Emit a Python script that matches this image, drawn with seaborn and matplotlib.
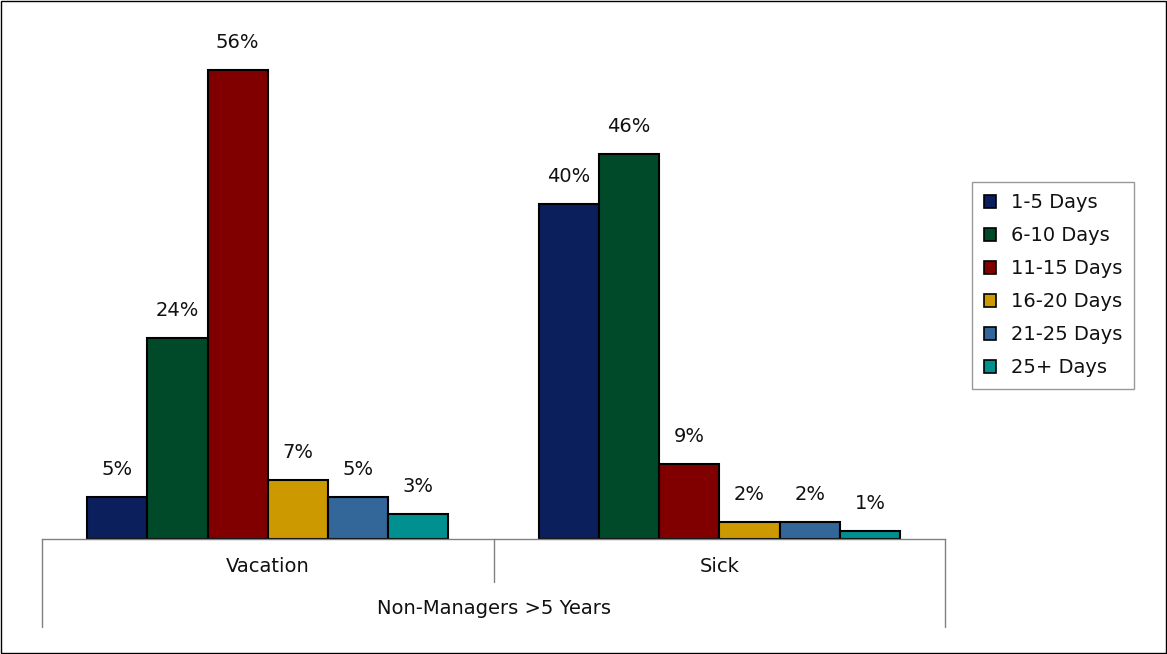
import pandas as pd
import seaborn as sns
import matplotlib.pyplot as plt
from matplotlib.patches import Rectangle

categories = ['Vacation', 'Sick']
series = ['1-5 Days', '6-10 Days', '11-15 Days', '16-20 Days', '21-25 Days', '25+ Days']
vacation = [5, 24, 56, 7, 5, 3]
sick = [40, 46, 9, 2, 2, 1]
colors = ['#0B1F5C', '#004A2A', '#800000', '#CC9900', '#336699', '#009090']
group_label = 'Non-Managers >5 Years'

rows = []
for s, v in zip(series, vacation):
    rows.append({'Type': 'Vacation', 'Days': s, 'Pct': v})
for s, v in zip(series, sick):
    rows.append({'Type': 'Sick', 'Days': s, 'Pct': v})
df = pd.DataFrame(rows)

sns.set_style('white')
plt.rcParams['font.family'] = ['DejaVu Sans']
plt.rcParams['text.color'] = '#111111'

fig = plt.figure(figsize=(11.67, 6.54), dpi=100)
ax = fig.add_axes([0.036, 0.1758, 0.774, 0.768])

sns.barplot(data=df, x='Type', y='Pct', hue='Days', order=categories,
            hue_order=series, palette=colors, width=0.8, edgecolor='black',
            linewidth=1.5, ax=ax, saturation=1)

for cont in ax.containers:
    ax.bar_label(cont, labels=[f'{int(round(b.get_height()))}%' for b in cont],
                 padding=13, fontsize=14, color='#111111')

ax.set_ylim(0, 60)
ax.set_xlim(-0.5, 1.5)
ax.set_yticks([])
ax.set_xticks([])
ax.set_xlabel('')
ax.set_ylabel('')
for sp in ['top', 'left', 'right']:
    ax.spines[sp].set_visible(False)
ax.spines['bottom'].set_color('#808080')
ax.spines['bottom'].set_linewidth(1)

# category separators below the axis
sep_kw = dict(color='#808080', lw=1, clip_on=False, transform=ax.get_xaxis_transform())
ax.plot([-0.5, -0.5], [0, -0.175], **sep_kw)
ax.plot([1.5, 1.5], [0, -0.175], **sep_kw)
ax.plot([0.5, 0.5], [0, -0.086], **sep_kw)

for i, c in enumerate(categories):
    ax.text(i, -0.054, c, transform=ax.get_xaxis_transform(), ha='center',
            va='center', fontsize=14, color='#111111')
ax.text(0.5, -0.139, group_label, transform=ax.get_xaxis_transform(),
        ha='center', va='center', fontsize=14, color='#111111')

leg = ax.legend(loc='upper left', bbox_to_anchor=(0.833, 0.722),
                bbox_transform=fig.transFigure, frameon=True, fontsize=14,
                handlelength=0.65, handleheight=0.65, labelspacing=0.72,
                handletextpad=0.75, borderpad=0.6, borderaxespad=0,
                fancybox=False)
leg.get_frame().set_edgecolor('#808080')
leg.get_frame().set_linewidth(1)
for t in leg.get_texts():
    t.set_color('#111111')
for h in leg.legend_handles:
    h.set_edgecolor('black')
    h.set_linewidth(1.2)

fig.patches.append(Rectangle((0.001, 0.002), 0.998, 0.996, fill=False,
                             edgecolor='black', lw=1.0,
                             transform=fig.transFigure, figure=fig))

fig.savefig('out.png', dpi=100)
